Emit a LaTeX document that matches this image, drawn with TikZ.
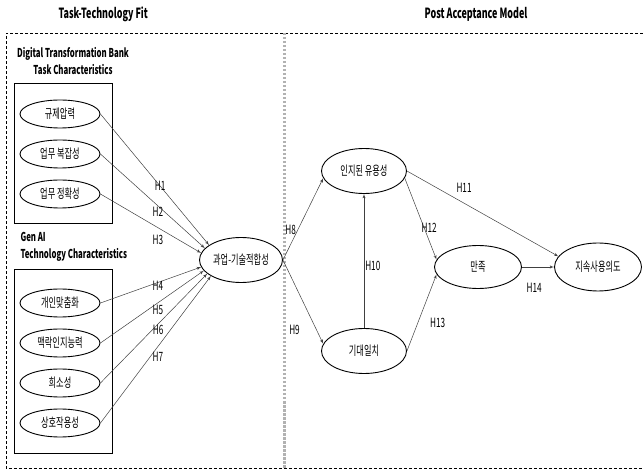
\documentclass[tikz,border=0pt]{standalone}
\usepackage{fontspec}
\setmainfont{Noto Sans CJK KR}[FakeStretch=0.64]
\usetikzlibrary{positioning}
\usetikzlibrary{shapes, arrows}

\begin{document}
\begin{tikzpicture}[x=1pt, y=-1pt, node distance = 40pt,
    font=\fontsize{12.8}{14}\selectfont]
    \tikzstyle{construct} = [ellipse, draw, line width=0.9pt,
    minimum width=80pt, minimum height=28pt, inner sep=0pt]
    \tikzstyle{bigconstruct} = [construct, minimum width=85pt,
    minimum height=45pt]
    \tikzstyle{group} = [draw, line width=0.8pt]
    \tikzstyle{heading} = [font=\bfseries\fontsize{14}{16}\selectfont]
    \tikzstyle{subheading} = [font=\bfseries\fontsize{12.2}{17}\selectfont,
    align=center]
    \tikzstyle{line} = [draw, black!75, line width=0.5pt, -latex']
    \tikzstyle{hyp} = [inner sep=1pt, black]
    \useasboundingbox (0,0) rectangle (643,470);
    % frame and divider
    \draw [densely dashed, line width=0.7pt] (643,33) -- (6,33) -- (6,468)
    -- (643,468);
    \draw [gray!60, line width=3pt, dash pattern=on 2.5pt off 1.5pt]
    (284,33) -- (284,469);
    \node [heading, anchor=west] (ttf) at (55,14) {Task-Technology Fit};
    \node [heading] (pam) at (476,14) {Post Acceptance Model};
    % task side
    \node [subheading] (taskhead) at (73,61) {Digital Transformation Bank\\
    Task Characteristics};
    \draw [group] (14,83) rectangle (112,223);
    \node [construct] (pressure) at (60,114) {규제압력};
    \node [construct, below of=pressure] (complexity) {업무 복잡성};
    \node [construct, below of=complexity] (accuracy) {업무 정확성};
    % technology side
    \node [subheading, align=left, anchor=west] (techhead) at (17,247)
    {Gen AI\\Technology Characteristics};
    \draw [group] (14,269) rectangle (112,453);
    \node [construct] (personal) at (60,303) {개인맞춤화};
    \node [construct, below of=personal] (context) {맥락인지능력};
    \node [construct, below of=context] (scarcity) {희소성};
    \node [construct, below of=scarcity] (interact) {상호작용성};
    \node [bigconstruct, minimum width=83pt] (fit) at (241,260)
    {과업-기술적합성};
    % post acceptance model
    \node [bigconstruct] (useful) at (364,171) {인지된 유용성};
    \node [bigconstruct, below of=useful, node distance=180pt] (confirm)
    {기대일치};
    \node [bigconstruct, minimum width=87pt, minimum height=43pt]
    (satisfy) at (478,267) {만족};
    \node [bigconstruct, right of=satisfy, node distance=120pt,
    minimum width=87pt, minimum height=48pt] (intent) {지속사용의도};
    \path [line] (pressure.east) -- node [hyp, pos=0.55] {H1} (fit.155);
    \path [line] (complexity.east) -- node [hyp, pos=0.55, yshift=-6pt]
    {H2} (fit.162);
    \path [line] (accuracy.east) -- node [hyp, pos=0.57, yshift=-12pt]
    {H3} (fit.170);
    \path [line] (personal.east) -- node [hyp, pos=0.57, yshift=-3pt]
    {H4} (fit.190);
    \path [line] (context.east) -- node [hyp, pos=0.556, yshift=-7pt]
    {H5} (fit.196);
    \path [line] (scarcity.east) -- node [hyp, pos=0.54, yshift=-6pt]
    {H6} (fit.202);
    \path [line] (interact.east) -- node [hyp, pos=0.52, yshift=-10pt]
    {H7} (fit.208);
    \path [line] (fit.east) -- node [hyp, pos=0.366, xshift=-7pt] {H8}
    (useful.190);
    \path [line] (fit.east) -- node [hyp, pos=0.834, xshift=-22pt] {H9}
    (confirm.170);
    \path [line] (confirm.north) -- node [hyp, pos=0.46, right] {H10}
    (useful.south);
    \path [line] (useful.east) -- node [hyp, pos=0.377, yshift=15pt] {H11}
    (intent.165);
    \path [line] (useful.-10) -- node [hyp, pos=0.61, xshift=5pt] {H12}
    (satisfy.170);
    \path [line] (confirm.east) -- node [hyp, pos=0.365, xshift=20pt] {H13}
    (satisfy.190);
    \path [line] (satisfy.east) -- node [hyp, pos=0.38, yshift=-21pt] {H14}
    (intent.west);
\end{tikzpicture}
\end{document}
